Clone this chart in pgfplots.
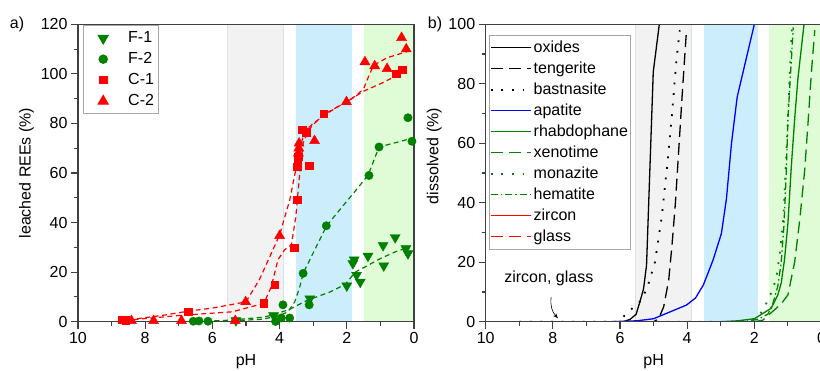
\documentclass[border=0pt]{standalone}
\usepackage{pgfplots}
\pgfplotsset{compat=1.18}
\usetikzlibrary{arrows.meta}
\usepackage{fontspec}
\setmainfont{Liberation Sans}
\definecolor{dgreen}{RGB}{0,128,0}
\definecolor{shgray}{RGB}{242,242,242}
\definecolor{shgrayl}{RGB}{224,224,224}
\definecolor{shblue}{RGB}{204,238,252}
\definecolor{shgreen}{RGB}{224,252,214}
\definecolor{axgray}{RGB}{64,64,64}
\pgfplotsset{
 myaxis/.style={
  scale only axis, anchor=south west,
  x dir=reverse, xmin=0, xmax=10,
  xtick={0,2,...,10}, minor xtick={1,3,...,9},
  axis line style={axgray, line width=1.2pt},
  major tick style={axgray, line width=1.1pt},
  minor tick style={axgray, line width=1.1pt},
  major tick length=7pt, minor tick length=4pt,
  tick align=outside,
  xtick pos=bottom, ytick pos=left,
  /pgf/number format/assume math mode=true,
  tick label style={font=\fontsize{16}{19}\selectfont},
  label style={font=\fontsize{16}{19}\selectfont},
  xlabel={pH},
  xlabel style={yshift=-4pt},
  axis on top,
  legend cell align=left,
 },
 fitline/.style={line width=1.2pt, dash pattern=on 5pt off 3.5pt, forget plot},
 crv/.style={line width=1.3pt, no marks},
}
\begin{document}
\begin{tikzpicture}[font=\fontsize{16}{19}\selectfont]
%% ---------------- panel a ----------------
\begin{axis}[myaxis, at={(78pt,48.3pt)}, width=336pt, height=297.4pt,
  ymin=0, ymax=120, ytick={0,20,...,120}, minor ytick={10,30,...,110},
  ylabel={leached REEs (\%)},
  legend style={at={(0.014,0.997)}, anchor=north west, draw=gray!70, line width=1pt,
    font=\fontsize{16}{19}\selectfont, row sep=0pt,
    nodes={inner sep=2pt, text height=13pt, text depth=4pt}},
  legend image code/.code={\path (0pt,0pt) -- (40pt,0pt); \draw[#1, only marks] plot coordinates {(17pt,0pt)};},
]
\fill[shgray] (axis cs:5.55,0) rectangle (axis cs:3.9,120);
\draw[shgrayl, line width=0.8pt] (axis cs:5.55,0) -- (axis cs:5.55,120) (axis cs:3.9,0) -- (axis cs:3.9,120);
\fill[shblue] (axis cs:3.5,0) rectangle (axis cs:1.85,120);
\fill[shgreen] (axis cs:1.5,0) rectangle (axis cs:0,120);
% fit lines
\addplot[fitline, dgreen] coordinates {(6.7,0) (5.5,0.6) (4.5,1.8) (4.2,2.7) (3.7,5) (3.2,8.5) (2.5,12) (2.05,15) (1.75,20) (1.4,22.5) (1.0,25.5) (0.5,28.5) (0.15,30)};
\addplot[fitline, dgreen] coordinates {(6.7,0) (5.5,0.3) (4.5,1) (4.0,2.5) (3.75,4) (3.55,8) (3.4,14) (3.3,19.5) (2.6,38.7) (1.37,59) (1.04,70.5) (0.06,74)};
\addplot[fitline, red] coordinates {(8.5,0.8) (7.5,2.5) (6.7,4.3) (6,5.5) (5.0,8) (4.6,17) (4.2,29) (4.0,35) (3.7,49) (3.5,62.5) (3.4,70) (3.3,74.5) (3.2,77.5) (3.0,80) (2.7,83) (2.3,86.5) (2.0,88.7) (1.7,91.5) (1.5,94) (1.35,99) (1.2,103.5) (0.8,106.5) (0.2,109)};
\addplot[fitline, red] coordinates {(8.6,0.5) (7,2.5) (5.4,4) (4.47,7.4) (4.25,14) (4.05,25) (3.85,29) (3.65,31) (3.52,42) (3.4,60) (3.3,72) (3.15,77) (3.0,79.5) (2.7,83.5) (2.3,86.5) (2.0,88.7) (1.5,93) (1.0,96) (0.5,99.4) (0.25,101)};
% markers
\addplot[dgreen, draw=none, mark=triangle*, mark size=5.8pt, mark options={solid, draw=dgreen, fill=dgreen, rotate=180}] coordinates {(5.3,0.5) (4.18,2.5) (3.1,9.3) (2.0,14.5) (1.82,23.5) (1.78,25) (1.71,18.8) (1.6,16) (1.37,26.5) (0.92,30.8) (0.9,22.6) (0.56,34) (0.24,29.5) (0.18,27.5)};
\addlegendentry{F-1}
\addplot[dgreen, draw=none, mark=*, mark size=4.2pt, mark options={solid, draw=dgreen, fill=dgreen}] coordinates {(6.57,0.2) (6.4,0.3) (6.13,0.2) (4.12,0.1) (3.95,1.5) (3.9,6.8) (3.7,1.5) (3.3,19.5) (3.12,6.8) (2.61,38.7) (1.34,59) (1.04,70.5) (0.18,82.3) (0.06,72.8)};
\addlegendentry{F-2}
\addplot[red, draw=none, mark=square*, mark size=3.8pt, mark options={solid, draw=red, fill=red}] coordinates {(8.7,0.8) (8.58,0.7) (6.72,4) (4.47,7.4) (4.15,15) (3.57,29.8) (3.48,49.3) (3.47,62.5) (3.46,64.5) (3.45,66.5) (3.33,77.5) (3.2,76.5) (3.12,63) (2.69,84) (0.53,100) (0.36,101.7)};
\addlegendentry{C-1}
\addplot[red, draw=none, mark=triangle*, mark size=5.8pt, mark options={solid, draw=red, fill=red}] coordinates {(8.41,0.4) (7.75,0.4) (6.92,0.4) (5.32,0.4) (5.01,8) (4.0,34.7) (3.44,68) (3.43,70) (3.42,72) (2.96,73) (2.01,88.7) (1.46,104.8) (1.17,103.2) (0.8,102.1) (0.37,114.6) (0.23,110)};
\addlegendentry{C-2}
\end{axis}
%% ---------------- panel b ----------------
\begin{axis}[myaxis, at={(485.7pt,48.3pt)}, width=335.8pt, height=297.4pt,
  ymin=0, ymax=100, ytick={0,20,...,100}, minor ytick={10,30,...,90},
  ylabel={dissolved (\%)}, ylabel style={xshift=17pt},
  legend style={at={(0.011,0.965)}, anchor=north west, draw=gray!70, line width=1pt, fill=white,
    font=\fontsize{16}{19}\selectfont, row sep=0pt, inner xsep=0pt,
    nodes={inner sep=2pt, text height=13pt, text depth=4pt}},
  legend image code/.code={\draw[#1] (-2pt,0pt) -- (38pt,0pt);},
]
\fill[shgray] (axis cs:5.55,0) rectangle (axis cs:3.88,100);
\draw[shgrayl, line width=0.8pt] (axis cs:5.55,0) -- (axis cs:5.55,100) (axis cs:3.88,0) -- (axis cs:3.88,100);
\fill[shblue] (axis cs:3.5,0) rectangle (axis cs:1.89,100);
\fill[shgreen] (axis cs:1.57,0) rectangle (axis cs:-0.2,100);
\addplot[crv, black] coordinates {(9,0) (5.9,0) (5.7,0.8) (5.52,2.5) (5.4,7) (5.3,11) (5.21,19) (5.01,84) (4.83,100)};
\addlegendentry{oxides}
\addplot[crv, black, dash pattern=on 12pt off 6pt] coordinates {(9,0) (5.0,0) (4.85,1) (4.7,5) (4.55,14) (4.45,26) (4.35,40) (4.25,58) (4.15,76) (4.08,88) (4.02,98)};
\addlegendentry{tengerite}
\addplot[crv, black, line width=1.8pt, dash pattern=on 1.8pt off 8.8pt] coordinates {(9,0) (6.1,0) (5.95,1) (5.75,3.5) (5.45,6) (5.2,11) (4.96,20) (4.76,35) (4.6,52) (4.45,70) (4.32,88) (4.22,98)};
\addlegendentry{bastnasite}
\addplot[crv, blue] coordinates {(9,0) (6.3,0) (5.5,0.3) (5.0,1) (4.02,5.6) (3.75,8) (3.52,12.3) (3.23,20.7) (2.98,29.7) (2.83,41.4) (2.68,60) (2.51,75.6) (2.0,100)};
\addlegendentry{apatite}
\addplot[crv, dgreen] coordinates {(9,0) (3,0) (2.5,0.3) (2.0,1) (1.5,4.5) (1.3,9) (1.2,13) (1.1,21) (1.0,33) (0.9,52) (0.8,68) (0.7,82) (0.52,100)};
\addlegendentry{rhabdophane}
\addplot[crv, dgreen, dash pattern=on 12pt off 6pt] coordinates {(9,0) (2.0,0) (1.75,0.5) (1.5,3) (1.2,6) (1.0,9) (0.8,20) (0.65,34) (0.5,51) (0.4,67) (0.3,84) (0.2,98)};
\addlegendentry{xenotime}
\addplot[crv, dgreen, line width=1.8pt, dash pattern=on 1.8pt off 8.8pt] coordinates {(9,0) (2.5,0) (2.0,0.8) (1.8,3) (1.6,7) (1.45,11) (1.34,15) (1.24,23) (1.14,34) (1.07,51) (1.0,68) (0.94,85) (0.88,99)};
\addlegendentry{monazite}
\addplot[crv, dgreen, dash pattern=on 7pt off 3pt on 1.5pt off 3pt] coordinates {(9,0) (2.3,0) (1.9,0.8) (1.6,2.5) (1.45,6) (1.3,12) (1.2,20) (1.12,32) (1.05,50) (1.0,68) (0.93,82) (0.84,99)};
\addlegendentry{hematite}
\addplot[crv, red] coordinates {(9,0) (5,0) (0,0)};
\addlegendentry{zircon}
\addplot[crv, red, dash pattern=on 12pt off 6pt] coordinates {(9,0) (5,0) (0,0)};
\addlegendentry{glass}
\node at (axis cs:8.12,14.7) {zircon, glass};
\draw[-{Stealth[length=5pt,width=4pt]}, line width=0.6pt] (axis cs:8.05,8.3) to[bend right=25] (axis cs:7.85,1.2);
\end{axis}
\node at (17pt,346pt) {a)};
\node at (435pt,346pt) {b)};
\pgfresetboundingbox
\useasboundingbox (0pt,0pt) rectangle (820pt,370pt);
\end{tikzpicture}
\end{document}
